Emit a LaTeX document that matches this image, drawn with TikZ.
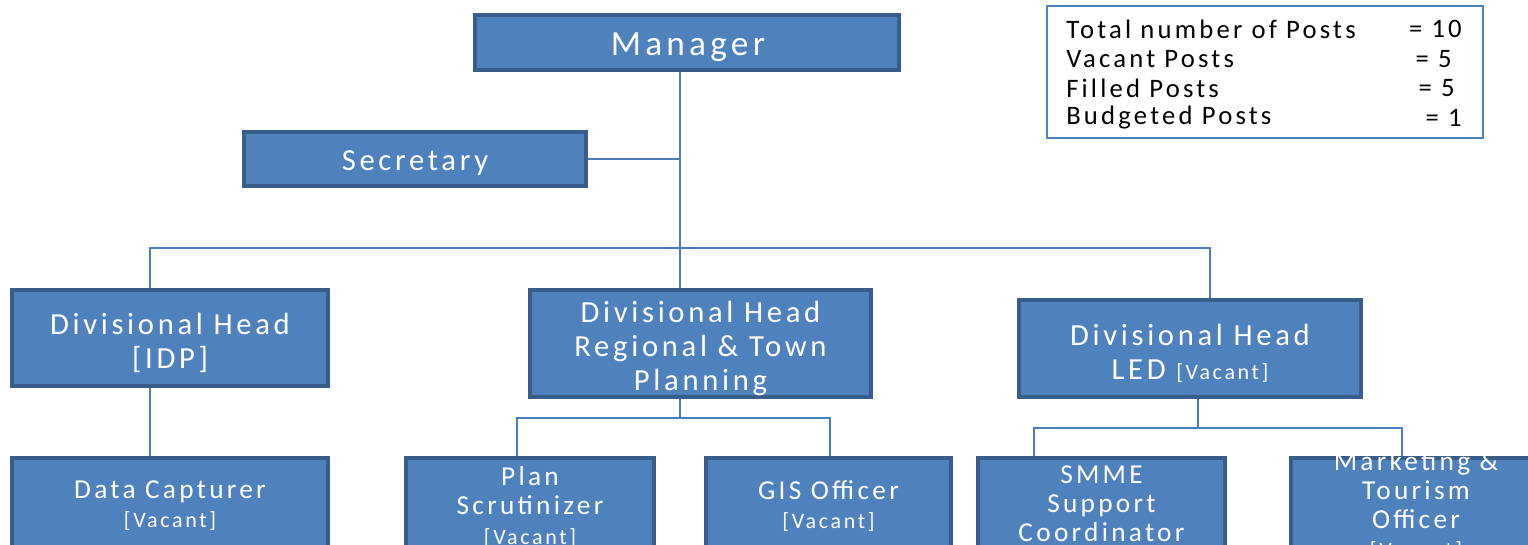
\documentclass[tikz,border=0pt]{standalone}
\usepackage{fontspec}
\setmainfont{Carlito}[LetterSpace=12]
\definecolor{boxfill}{HTML}{4F81BD}
\definecolor{boxedge}{HTML}{385D8A}
\definecolor{linkc}{HTML}{4A7EBB}
\newcommand{\vac}{{\fontsize{16.5}{19}\selectfont[Vacant]}}
\begin{document}
\begin{tikzpicture}[x=0.75pt,y=-0.75pt,
  post/.style={draw=boxedge,fill=boxfill,line width=2.4pt,inner sep=0pt},
  txt/.style={text=white,align=center,inner sep=0pt},
  sz/.style 2 args={minimum width=#1*0.75pt,minimum height=#2*0.75pt},
  big/.style={font=\fontsize{26.5}{30}\selectfont},
  mid/.style={font=\fontsize{23}{25.5}\selectfont},
  low/.style={font=\fontsize{20.5}{21.8}\selectfont},
  conn/.style={draw=linkc,line width=1.1pt},
  tally/.style={font=\fontsize{20}{22}\selectfont,inner sep=0pt}]
\useasboundingbox (0,0) rectangle (1528,545);
\clip (0,0) rectangle (1528,545);

% top of the chart
\node[post,sz={424}{55}] (mgr) at (687,42.5) {};
\node[txt,big] (mgrT) at (688,47) {Manager};
\node[post,sz={342}{54}] (sec) at (415,159) {};
\node[txt,mid] (secT) at (415,163) {Secretary};

% summary of posts
\node[draw=boxfill,line width=1.1pt,fill=white,sz={436}{132},inner sep=0pt] (sum) at (1265,72) {};
\node[tally,anchor=west] (t1) at (1066,29) {Total number of Posts};
\node[tally,anchor=west] (t2) at (1066,59) {Vacant Posts};
\node[tally,anchor=west] (t3) at (1066,88) {Filled Posts};
\node[tally,anchor=west] (t4) at (1066,118) {Budgeted Posts};
\node[tally,anchor=east] (v1) at (1462,29) {= 10};
\node[tally,anchor=east] (v2) at (1452,59) {= 5};
\node[tally,anchor=east] (v3) at (1455,88) {= 5};
\node[tally,anchor=east] (v4) at (1462,118) {= 1};

% divisional heads
\node[post,sz={316}{96}] (idp) at (170,338) {};
\node[txt,mid] (idpT) at (170,343) {Divisional Head\\{}[IDP]};
\node[post,sz={341}{107}] (reg) at (700.5,343.5) {};
\node[txt,mid] (regT) at (700.5,348.5) {Divisional Head\\Regional \& Town\\Planning};
\node[post,sz={342}{97}] (led) at (1190,348.5) {};
\node[txt,mid] (ledT) at (1190,353.5) {Divisional Head\\LED \vac};

% staff posts
\node[post,sz={316}{96}] (dc) at (170,506) {};
\node[txt,low] (dcT) at (170,506) {Data Capturer\\\vac};
\node[post,sz={248}{96}] (ps) at (530,506) {};
\node[txt,low] (psT) at (530,507) {Plan\\Scrutinizer\\\vac};
\node[post,sz={245}{96}] (gis) at (828.5,506) {};
\node[txt,low] (gisT) at (828.5,506) {GIS Officer\\\vac};
\node[post,sz={247}{96}] (smme) at (1101.5,506) {};
\node[txt,low] (smmeT) at (1101.5,504) {SMME\\Support\\Coordinator};
\node[post,sz={250}{96}] (mkt) at (1416,506) {};
\node[txt,low] (mktT) at (1416,506) {Marketing \&\\Tourism\\Officer\\\vac};

% junction points of the connectors
\coordinate (trunk) at (680,248);
\coordinate (busL) at (150,248);
\coordinate (busR) at (1210,248);
\coordinate (rb) at (680,418);
\coordinate (rbL) at (517,418);
\coordinate (rbR) at (830,418);
\coordinate (lb) at (1198,428);
\coordinate (lbL) at (1034,428);
\coordinate (lbR) at (1402,428);

% connectors
\draw[conn] (trunk |- mgr.south) -- (trunk |- reg.north);
\draw[conn] (sec.east) -- (sec.east -| trunk);
\draw[conn] (busL |- idp.north) -- (busL) -- (busR) -- (busR |- led.north);
\draw[conn] (busL |- idp.south) -- (busL |- dc.north);
\draw[conn] (rb |- reg.south) -- (rb);
\draw[conn] (rbL |- ps.north) -- (rbL) -- (rbR) -- (rbR |- gis.north);
\draw[conn] (lb |- led.south) -- (lb);
\draw[conn] (lbL |- smme.north) -- (lbL) -- (lbR) -- (lbR |- mkt.north);
\end{tikzpicture}
\end{document}
